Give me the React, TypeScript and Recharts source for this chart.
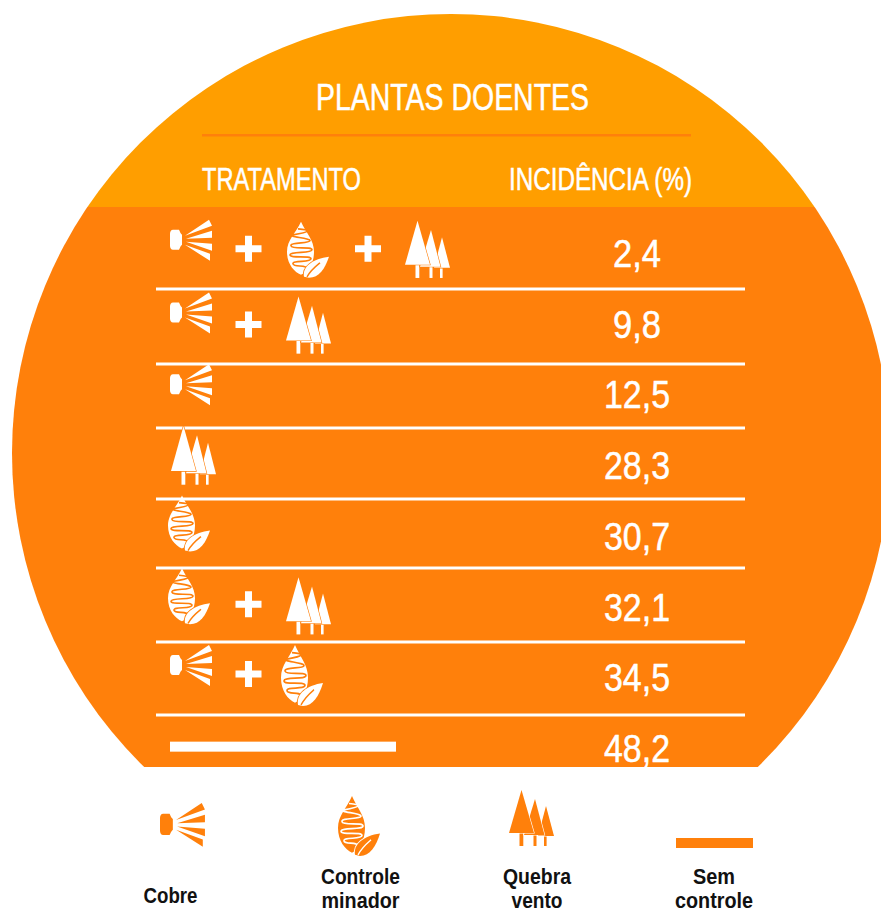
import { Bar, CartesianGrid, ComposedChart, LabelList, XAxis, YAxis } from "recharts";

const treatments = [
  "Cobre + Controle minador + Quebra vento",
  "Cobre + Quebra vento",
  "Cobre",
  "Quebra vento",
  "Controle minador",
  "Controle minador + Quebra vento",
  "Cobre + Controle minador",
  "Sem controle",
];
const incidence = [2.4, 9.8, 12.5, 28.3, 30.7, 32.1, 34.5, 48.2];
const data = treatments.map((treatment, i) => ({ treatment, incidence: incidence[i] }));

const ORANGE = "#ff800b";
const AMBER = "#ff9e00";
const WHITE = "#ffffff";
const FONT = '"Liberation Sans", sans-serif';

type IconProps = { x: number; y: number; color: string; bg: string; sy?: number; sx?: number };

function Spray({ x, y, color, sx = 1 }: IconProps) {
  return (
    <g transform={`translate(${x} ${y}) scale(${sx})`} fill={color}>
      <path d="M3 10 H9 C10 12 10 13 12 15 V25 C10 27 10 28 9 30 H3 C1 30 0 28 0 26 V14 C0 12 1 10 3 10 Z" />
      <path d="M15 16 L39 0 L42 6 Z M16 19 L42 11 L42 18 Z M16 22 L42 24 L42 31 Z M15 25 L40 34 L40 41 Z" />
    </g>
  );
}

function Leaf({ x, y, color, bg, sy = 1 }: IconProps) {
  return (
    <g transform={`translate(${x} ${y}) scale(1 ${sy})`}>
      <path d="M14 0 C19 11 27 18 27 30 C27 42 21 50 14 53 C7 50 0 42 0 30 C0 18 9 11 14 0 Z" fill={color} />
      <path
        d="M11 7 C24 8 24 10 6 13 C-1 15 24 16 23 19 C22 22 3 20 4 24 C5 28 25 24 25 28 C25 32 3 29 3 33 C3 37 24 33 24 37 C24 41 5 38 6 42 C7 46 20 42 20 47"
        fill="none"
        stroke={bg}
        strokeWidth={1.6}
      />
      <path d="M42 35 C38 47 32 56 22 56 L17 55 C15 45 26 37 42 35 Z" fill={color} stroke={bg} strokeWidth={1.8} paintOrder="stroke" />
      <path d="M20 55 C24 48 28 45 33 41" fill="none" stroke={bg} strokeWidth={1.4} />
    </g>
  );
}

function Trees({ x, y, color, bg, sy = 1 }: IconProps) {
  return (
    <g transform={`translate(${x} ${y}) scale(1 ${sy})`} fill={color}>
      <rect x={35} y={46} width={2.6} height={10} />
      <rect x={24.5} y={44} width={3} height={12} />
      <rect x={10.5} y={42} width={3.8} height={14} />
      <path d="M37 16 L45 46 L29 46 Z" stroke={bg} strokeWidth={1.2} paintOrder="stroke" />
      <path d="M26 9 L35.5 45 L15 45 Z" stroke={bg} strokeWidth={1.2} paintOrder="stroke" />
      <path d="M12.5 0 L25 43 L0 43 Z" stroke={bg} strokeWidth={1.2} paintOrder="stroke" />
    </g>
  );
}

function Plus({ x, y, color }: IconProps) {
  return (
    <path
      transform={`translate(${x} ${y})`}
      d="M-3.5 -13 H3.5 V-3.5 H13 V3.5 H3.5 V13 H-3.5 V3.5 H-13 V-3.5 H-3.5 Z"
      fill={color}
    />
  );
}

const iconParts: Record<string, (p: IconProps) => React.ReactElement> = { spray: Spray, leaf: Leaf, trees: Trees, plus: Plus };

// where each row's symbols sit, dy is measured from the row centre
const rowSymbols: { part: string; x: number; dy: number; sy?: number }[][] = [
  [
    { part: "spray", x: 170, dy: -34 },
    { part: "plus", x: 248.5, dy: -5 },
    { part: "leaf", x: 287, dy: -32 },
    { part: "plus", x: 368, dy: -5 },
    { part: "trees", x: 405, dy: -33, sy: 1.02 },
  ],
  [
    { part: "spray", x: 170, dy: -32 },
    { part: "plus", x: 248.5, dy: 0 },
    { part: "trees", x: 286, dy: -28, sy: 1.02 },
  ],
  [{ part: "spray", x: 170, dy: -31 }],
  [{ part: "trees", x: 171, dy: -40, sy: 1.05 }],
  [{ part: "leaf", x: 168, dy: -41 }],
  [
    { part: "leaf", x: 168, dy: -39 },
    { part: "plus", x: 248.5, dy: -3 },
    { part: "trees", x: 286, dy: -30, sy: 1.02 },
  ],
  [
    { part: "spray", x: 170, dy: -33 },
    { part: "plus", x: 248.5, dy: -4 },
    { part: "leaf", x: 281, dy: -33, sy: 1.09 },
  ],
  [],
];

function RowTick({ y, index, payload }: any) {
  const row = payload?.index ?? index;
  return (
    <g>
      {rowSymbols[row].map((s, i) => {
        const Part = iconParts[s.part];
        return <Part key={i} x={s.x} y={y + s.dy} sy={s.sy} color={WHITE} bg={ORANGE} />;
      })}
      {row === 7 && <rect x={170} y={y - 7} width={226} height={10} fill={WHITE} />}
    </g>
  );
}

function ValueLabel({ y, height, value }: any) {
  return (
    <text
      x={637}
      y={y + height / 2 + 13}
      textAnchor="middle"
      fill={WHITE}
      stroke={WHITE}
      strokeWidth={0.5}
      fontFamily={FONT}
      fontSize={38}
      textLength={value < 10 ? 48 : 66}
      lengthAdjust="spacingAndGlyphs"
    >
      {Number(value).toFixed(1).replace(".", ",")}
    </text>
  );
}

function HeadText({ x, y, size, w, children }: { x: number; y: number; size: number; w: number; children: string }) {
  return (
    <text
      x={x}
      y={y}
      textAnchor="middle"
      fill={WHITE}
      stroke={WHITE}
      strokeWidth={0.5}
      fontFamily={FONT}
      fontSize={size}
      textLength={w}
      lengthAdjust="spacingAndGlyphs"
    >
      {children}
    </text>
  );
}

function LegendText({ x, y, w, children }: { x: number; y: number; w: number; children: string }) {
  return (
    <text
      x={x}
      y={y}
      textAnchor="middle"
      fill="#111111"
      fontFamily={FONT}
      fontWeight={700}
      fontSize={22}
      textLength={w}
      lengthAdjust="spacingAndGlyphs"
    >
      {children}
    </text>
  );
}

function Backdrop() {
  return (
    <svg width={881} height={913} style={{ position: "absolute", left: 0, top: 0 }}>
      <defs>
        <clipPath id="disc">
          <circle cx={451} cy={453} r={439} />
        </clipPath>
      </defs>
      <g clipPath="url(#disc)">
        <rect x={0} y={0} width={881} height={207} fill={AMBER} />
        <rect x={0} y={207} width={881} height={560} fill={ORANGE} />
      </g>
      <HeadText x={452.5} y={110} size={37} w={273}>PLANTAS DOENTES</HeadText>
      <HeadText x={281.5} y={190} size={31} w={159}>TRATAMENTO</HeadText>
      <HeadText x={600.5} y={190} size={31} w={183}>INCIDÊNCIA (%)</HeadText>
      <rect x={202} y={134} width={489} height={2.5} fill={ORANGE} />

      <Spray x={160} y={803} sx={1.07} color={ORANGE} bg={WHITE} />
      <Leaf x={338} y={796} sy={1.07} color={ORANGE} bg={WHITE} />
      <Trees x={509} y={790} color={ORANGE} bg={WHITE} />
      <rect x={676} y={838} width={77} height={10} fill={ORANGE} />

      <LegendText x={170.5} y={903} w={54}>Cobre</LegendText>
      <LegendText x={360.5} y={883.5} w={79}>Controle</LegendText>
      <LegendText x={360.5} y={908.3} w={78}>minador</LegendText>
      <LegendText x={537} y={883.5} w={68}>Quebra</LegendText>
      <LegendText x={537} y={908.3} w={51}>vento</LegendText>
      <LegendText x={714} y={883.5} w={42}>Sem</LegendText>
      <LegendText x={714} y={908.3} w={78}>controle</LegendText>
    </svg>
  );
}

export default function App() {
  return (
    <div style={{ position: "absolute", left: 0, top: 0, width: 881, height: 913, overflow: "hidden", background: "#fff" }}>
      <Backdrop />
      <div style={{ position: "absolute", left: 0, top: 0 }}>
        <ComposedChart
          width={881}
          height={913}
          layout="vertical"
          data={data}
          margin={{ top: 218.5, right: 136, bottom: 129, left: 0 }}
        >
          <CartesianGrid
            vertical={false}
            horizontalPoints={[289, 364, 428, 499, 568, 642, 715]}
            stroke={WHITE}
            strokeWidth={3}
          />
          <XAxis type="number" hide domain={[0, 60]} />
          <YAxis
            type="category"
            dataKey="treatment"
            width={156}
            interval={0}
            axisLine={false}
            tickLine={false}
            tick={RowTick}
          />
          <Bar dataKey="incidence" fill="none" isAnimationActive={false}>
            <LabelList dataKey="incidence" content={ValueLabel} />
          </Bar>
        </ComposedChart>
      </div>
    </div>
  );
}
